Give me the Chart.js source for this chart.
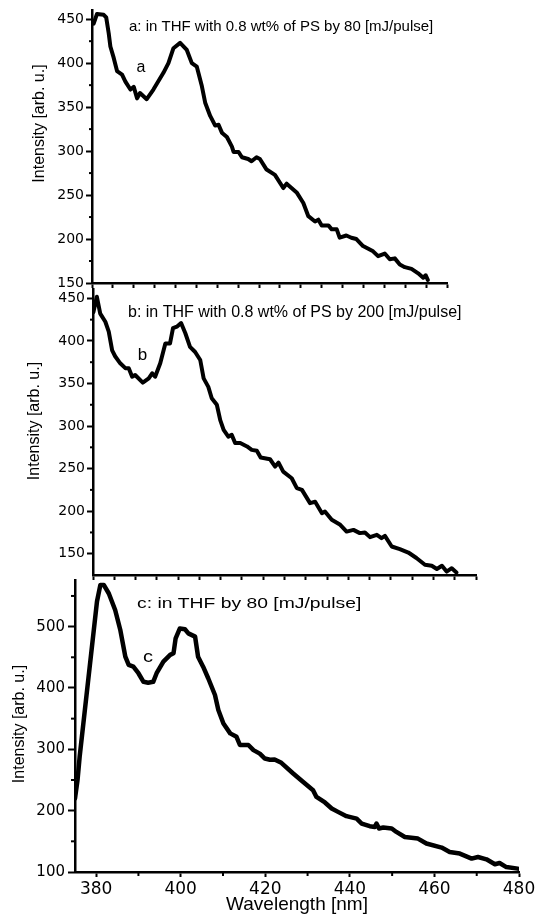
<!DOCTYPE html>
<html>
<head>
<meta charset="utf-8">
<script src="https://cdn.jsdelivr.net/npm/chart.js@4.4.0/dist/chart.umd.min.js"></script>
<style>
  html, body { margin: 0; padding: 0; background: #fff; }
  #wrap { position: relative; width: 539px; height: 915px; }
  #wrap canvas { position: absolute; left: 0; top: 0; }
</style>
</head>
<body>
<div id="wrap">
  <canvas id="chartA" width="539" height="915"></canvas>
  <canvas id="chartB" width="539" height="915"></canvas>
  <canvas id="chartC" width="539" height="915"></canvas>
</div>
<script>
// wavelength [nm] and intensity [arb. u.]
const waveA = [375.4, 376.2, 377.8, 378.4, 379.0, 379.4, 380.2, 381.0, 382.2, 383.0, 384.2, 385.0, 385.8, 386.5, 388.1, 389.7, 392.1, 393.3, 394.5, 396.1, 397.7, 398.9, 400.1, 401.3, 402.1, 403.3, 404.5, 405.3, 406.1, 407.3, 408.5, 408.9, 410.1, 410.9, 412.4, 413.2, 414.4, 415.2, 416.8, 418.8, 420.8, 421.6, 424.0, 425.6, 426.8, 428.4, 429.2, 430.0, 431.6, 432.4, 433.6, 434.3, 435.9, 437.1, 438.3, 439.9, 442.3, 443.5, 445.1, 446.3, 447.5, 448.7, 449.9, 451.5, 453.1, 454.3, 454.9, 455.4];
const intA = [445, 456, 455, 452, 434, 419, 406, 391, 387, 379, 370, 373, 360, 366, 359, 370, 389, 400, 417, 423, 415, 400, 396, 374, 355, 340, 329, 330, 321, 316, 305, 299, 299, 293, 291, 288.5, 293, 291, 279, 273, 258, 263, 253, 241, 226, 220, 222, 215.5, 215.5, 211, 211, 201.5, 204, 201.5, 200, 192, 186, 180.5, 183.5, 177, 178, 171, 168, 166, 161, 156, 158.8, 153.5];

const waveB = [375.1, 375.9, 376.7, 377.9, 378.7, 379.5, 380.2, 381.4, 382.6, 383.4, 384.2, 384.9, 386.7, 388.1, 388.9, 389.6, 390.8, 392.0, 393.1, 393.8, 394.7, 395.7, 396.7, 397.8, 399.0, 400.2, 401.0, 402.1, 402.9, 404.1, 404.9, 405.7, 406.8, 407.6, 408.4, 409.6, 411.2, 412.3, 413.5, 414.4, 416.6, 417.8, 418.6, 419.7, 421.7, 422.9, 424.1, 426.0, 427.2, 428.8, 429.5, 431.1, 433.1, 434.6, 436.2, 437.7, 438.9, 440.1, 441.7, 442.8, 443.6, 445.2, 447.1, 449.1, 451.0, 453.0, 454.6, 455.8, 457.0, 458.1, 459.3, 460.4];
const intB = [434, 452, 432, 422.5, 411, 389, 382, 373.7, 368, 368, 358, 360, 351, 356, 362, 358, 373.7, 397, 397, 415, 416.7, 421, 409, 393, 387, 377.6, 356, 346, 332.6, 325, 307, 295.5, 287.6, 289.6, 280, 280, 276, 272, 271, 263, 261, 252.4, 257, 246.5, 238.7, 227, 225, 209.4, 211, 197.6, 199.5, 189.8, 184, 176, 178, 174.2, 175, 169.5, 172.2, 168.3, 171, 158.5, 155.4, 151.4, 145, 137, 135.8, 132, 135.8, 129, 133, 128];

const waveC = [375.0, 375.6, 376.1, 380.2, 381.0, 381.8, 383.0, 384.5, 385.7, 386.9, 387.7, 388.8, 390.0, 391.2, 392.3, 393.5, 394.3, 395.9, 397.5, 398.3, 398.8, 399.8, 401.0, 401.8, 403.4, 404.1, 405.3, 406.5, 408.1, 408.9, 410.1, 411.7, 413.2, 414.0, 416.0, 417.2, 418.7, 419.9, 421.1, 422.2, 423.8, 426.6, 428.9, 431.3, 432.1, 434.1, 435.7, 437.2, 439.2, 441.6, 442.8, 444.7, 445.9, 446.3, 446.9, 447.9, 449.9, 451.0, 453.0, 456.1, 458.1, 461.7, 463.6, 466.0, 468.8, 470.3, 472.3, 474.3, 475.4, 477.0, 479.7];
const intC = [220, 250, 288, 541, 568, 568, 554, 527, 495, 451, 437.5, 434.7, 424, 410, 408.6, 410, 424, 443, 454, 456.6, 481, 497, 495.7, 489, 483.7, 451, 434.7, 415.8, 388.5, 364, 342, 326, 320.4, 307, 307, 298.7, 293, 285, 283, 283.5, 278, 260.6, 247, 233.4, 222.4, 213.3, 203.5, 198, 191, 187, 179, 174.6, 173.5, 179, 171, 172.5, 171, 165.3, 157, 154.5, 146.4, 139.8, 132.6, 130, 121.9, 124.5, 120.7, 112.6, 114.7, 108, 105.5];

// minor tick values
const minorYab = [175, 225, 275, 325, 375, 425];
const minorYc = [150, 250, 350, 450, 550];
const minorXc = [390, 410, 430, 450, 470];

const titleA = 'a: in THF with 0.8 wt% of PS by 80 [mJ/pulse]';
const titleB = 'b: in THF with 0.8 wt% of PS by 200 [mJ/pulse]';
const titleC = 'c: in THF by 80 [mJ/pulse]';
const yTitle = 'Intensity [arb. u.]';
const xTitle = 'Wavelength [nm]';

// short ticks between the labelled ones
const minorTicks = {
  id: 'minorTicks',
  afterDraw(chart, args, opts) {
    const ctx = chart.ctx;
    ctx.save();
    ctx.strokeStyle = '#000';
    ctx.lineWidth = 2;
    ['x', 'y'].forEach(id => {
      const scale = chart.scales[id];
      (opts[id] || []).forEach(v => {
        if (v < scale.min || v > scale.max) return;
        const p = scale.getPixelForValue(v);
        ctx.beginPath();
        if (id === 'x') {
          ctx.moveTo(p, scale.top);
          ctx.lineTo(p, scale.top + opts.len);
        } else {
          ctx.moveTo(scale.right, p);
          ctx.lineTo(scale.right - opts.len, p);
        }
        ctx.stroke();
      });
    });
    ctx.restore();
  }
};

// panel captions and rotated axis title
const panelText = {
  id: 'panelText',
  afterDraw(chart, args, opts) {
    const ctx = chart.ctx;
    (opts.items || []).forEach(t => {
      ctx.save();
      ctx.fillStyle = '#000';
      ctx.font = t.font;
      ctx.translate(t.x, t.y);
      if (t.rotate) ctx.rotate(t.rotate);
      ctx.scale(t.sx || 1, 1);
      ctx.textAlign = t.align || 'left';
      ctx.textBaseline = t.baseline || 'alphabetic';
      ctx.fillText(t.text, 0, 0);
      ctx.restore();
    });
  }
};

function makePanel(canvasId, wave, inten, cfg) {
  const ctx = document.getElementById(canvasId).getContext('2d');
  return new Chart(ctx, {
    type: 'line',
    data: {
      datasets: [{
        data: wave.map((w, i) => ({ x: w, y: inten[i] })),
        borderColor: '#000',
        borderWidth: cfg.lineWidth,
        borderJoinStyle: 'round',
        borderCapStyle: 'round',
        pointRadius: 0,
        tension: 0,
        fill: false
      }]
    },
    options: {
      responsive: false,
      animation: false,
      devicePixelRatio: 1,
      layout: { autoPadding: false, padding: cfg.padding },
      plugins: {
        legend: { display: false },
        tooltip: { enabled: false },
        minorTicks: cfg.minor,
        panelText: { items: cfg.texts }
      },
      scales: {
        x: {
          type: 'linear',
          min: cfg.xMin,
          max: cfg.xMax,
          afterFit: s => { s.height = cfg.xHeight; },
          grid: { display: true, drawOnChartArea: false, drawTicks: true, tickLength: 5, tickColor: '#000', tickWidth: 2 },
          border: { display: true, color: '#000', width: 2.5 },
          ticks: {
            display: cfg.xLabels,
            stepSize: cfg.xStep,
            includeBounds: false,
            autoSkip: false,
            maxRotation: 0,
            padding: 2,
            color: '#000',
            font: { family: 'DejaVu Sans', size: 17 }
          },
          title: {
            display: cfg.xLabels,
            text: xTitle,
            color: '#000',
            font: { family: 'Liberation Sans', size: 19, lineHeight: 1.1 },
            padding: { top: 0, bottom: 0 }
          }
        },
        y: {
          min: cfg.yMin,
          max: cfg.yMax,
          afterFit: s => { s.width = cfg.yWidth; },
          grid: { display: true, drawOnChartArea: false, drawTicks: true, tickLength: cfg.yTick, tickColor: '#000', tickWidth: 2 },
          border: { display: true, color: '#000', width: 2.5 },
          ticks: {
            stepSize: cfg.yStep,
            includeBounds: false,
            padding: cfg.yPad,
            color: '#000',
            font: { family: 'DejaVu Sans', size: cfg.yFont }
          }
        }
      }
    },
    plugins: [minorTicks, panelText]
  });
}

makePanel('chartA', waveA, intA, {
  lineWidth: 4,
  padding: { left: 0, top: 9, right: 92, bottom: 915 - 283 - 10 },
  xMin: 375, xMax: 460, xStep: 5, xLabels: false, xHeight: 10,
  yMin: 150, yMax: 460, yStep: 50, yWidth: 92, yTick: 6, yPad: 2, yFont: 14,
  minor: { y: minorYab, len: 3 },
  texts: [
    { text: titleA, x: 129, y: 31, font: '15px "Liberation Sans"' },
    { text: 'a', x: 141, y: 72, font: '16px "Liberation Sans"', align: 'center' },
    { text: yTitle, x: 40, y: 123.5, font: '16px "Liberation Sans"', align: 'center', baseline: 'middle', rotate: -Math.PI / 2 }
  ]
});

makePanel('chartB', waveB, intB, {
  lineWidth: 4,
  padding: { left: 0, top: 289, right: 539 - 476, bottom: 915 - 575 - 10 },
  xMin: 375, xMax: 465, xStep: 5, xLabels: false, xHeight: 10,
  yMin: 125, yMax: 461, yStep: 50, yWidth: 93, yTick: 6, yPad: 2, yFont: 14,
  minor: { y: minorYab, len: 3 },
  texts: [
    { text: titleB, x: 128, y: 317, font: '16px "Liberation Sans"' },
    { text: 'b', x: 142.5, y: 360, font: '17px "Liberation Sans"', align: 'center' },
    { text: yTitle, x: 35, y: 421, font: '16px "Liberation Sans"', align: 'center', baseline: 'middle', rotate: -Math.PI / 2 }
  ]
});

makePanel('chartC', waveC, intC, {
  lineWidth: 4.5,
  padding: { left: 0, top: 580, right: 539 - 519, bottom: 0 },
  xMin: 375, xMax: 480, xStep: 20, xLabels: true, xHeight: 915 - 872,
  yMin: 100, yMax: 576, yStep: 100, yWidth: 75, yTick: 7, yPad: 3, yFont: 15,
  minor: { x: minorXc, y: minorYc, len: 4 },
  texts: [
    { text: titleC, x: 137, y: 608, font: '14px "Liberation Sans"', sx: 1.38 },
    { text: 'c', x: 148, y: 662, font: '16px "Liberation Sans"', align: 'center', sx: 1.25 },
    { text: yTitle, x: 20, y: 724, font: '16px "Liberation Sans"', align: 'center', baseline: 'middle', rotate: -Math.PI / 2 }
  ]
});
</script>
</body>
</html>
